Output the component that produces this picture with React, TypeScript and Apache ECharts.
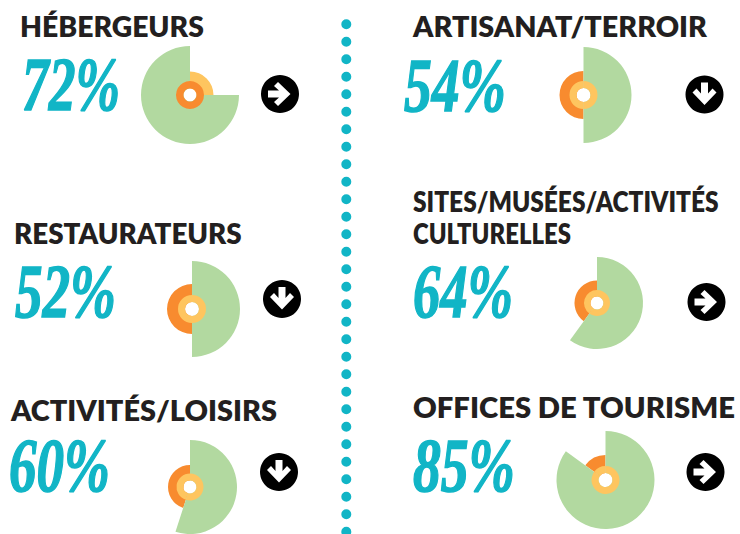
import React, { useEffect, useRef } from "react";
import * as echarts from "echarts";

// ---- data
const titleLines = [
  ["HÉBERGEURS"],
  ["RESTAURATEURS"],
  ["ACTIVITÉS/LOISIRS"],
  ["ARTISANAT/TERROIR"],
  ["SITES/MUSÉES/ACTIVITÉS", "CULTURELLES"],
  ["OFFICES DE TOURISME"],
];
const headlines = ["72%", "52%", "60%", "54%", "64%", "85%"];
const outerShares = [75, 50, 55, 50, 60, 85];
const middleShares = [25, 50, 45, 50, 40, 15];
const innerShares = [100, 50, 55, 50, 60, 85];
const trends = ["right", "down", "down", "down", "right", "right"];

// ---- layout
const centers = [[190, 95], [192, 309], [190, 487], [583.5, 95], [597, 303], [605.5, 480]];
const radii = [[49, 23.5, 14, 6.5], [48, 25, 14, 7], [47, 22, 13.5, 6.5], [48, 24, 14, 7], [46, 22.5, 13, 6.5], [49, 25, 14, 7]];
const outerStarts = [0, 90, 90, 90, 90, 90];
const arrowCenters = [[280, 94], [282, 299], [279, 472], [704.5, 94.5], [706.5, 302], [705.5, 472]];
const titleX = [[20], [14], [11], [413], [413, 413], [413]];
const titleY = [[26], [233], [409], [26], [201, 233], [407]];
const titleW = [[184], [228], [266], [294], [306, 158], [323]];
const headlineX = [22, 15, 9, 404, 413, 413];
const headlineY = [84, 291, 465, 85, 291, 465];
const headlineW = [98, 101, 101, 102, 100, 102];

const GREEN = "#B2D9A0";
const YELLOW = "#FEC55F";
const ORANGE = "#F88B2F";
const TEAL = "#11B5C6";
const DARK = "#231F20";
const TITLE_FONT = "Lato";
const NUM_FONT = "Liberation Serif";

const ctx = document.createElement("canvas").getContext("2d")!;
const measure = (t: string, font: string) => {
  ctx.font = font;
  return ctx.measureText(t).width;
};

const ringSeries = (c: number[], inner: number, outer: number, start: number, value: number, color: string, rest: string) => ({
  type: "pie",
  silent: true,
  center: c,
  radius: [inner, outer],
  startAngle: start,
  clockwise: true,
  label: { show: false },
  labelLine: { show: false },
  emphasis: { disabled: true },
  data: [
    { value, itemStyle: { color } },
    { value: 100 - value, itemStyle: { color: rest } },
  ],
});

const arrowPoints = (dir: string) => {
  const pts = [[-12, -3.5], [-1, -3.5], [-6, -8], [-2, -12], [10.5, 0], [-2, 12], [-6, 8], [-1, 3.5], [-12, 3.5]];
  return dir === "down" ? pts.map(([x, y]) => [-y, x]) : pts;
};

// a thin white seam across the inner ring, at the angle a share ends on
const seam = (c: number[], from: number, to: number, share: number) => {
  const a = (share * 3.6 * Math.PI) / 180;
  const s = Math.sin(a);
  const k = Math.cos(a);
  return {
    type: "line",
    shape: { x1: c[0] + from * s, y1: c[1] - from * k, x2: c[0] + to * s, y2: c[1] - to * k },
    style: { stroke: "#ffffff", lineWidth: 0.8 },
  };
};

export default function App() {
  const ref = useRef<HTMLDivElement>(null);
  useEffect(() => {
    const chart = echarts.init(ref.current!, undefined, { renderer: "svg" });
    const series: any[] = [];
    const graphic: any[] = [];
    centers.forEach((c, i) => {
      const [r0, r1, r2, r3] = radii[i];
      const first = i === 0;
      const middleStart = first ? 90 : 90 - outerShares[i] * 3.6;
      series.push(ringSeries(c, r3, r1, middleStart, middleShares[i], first ? YELLOW : ORANGE, "none"));
      series.push(ringSeries(c, r3, r0, outerStarts[i], outerShares[i], GREEN, "none"));
      series.push(ringSeries(c, r3, r2, 90, innerShares[i], first ? ORANGE : YELLOW, first ? ORANGE : YELLOW));

      if (!first) {
        graphic.push(seam(c, r3, r2, innerShares[i]));
        if (innerShares[i] !== 50) graphic.push(seam(c, r3, r2, 0));
      }

      titleLines[i].forEach((line, j) => {
        const font = `800 29px ${TITLE_FONT}`;
        graphic.push({
          type: "text",
          x: titleX[i][j],
          y: titleY[i][j],
          scaleX: titleW[i][j] / measure(line, font),
          style: { text: line, font, fill: DARK, textAlign: "left", textVerticalAlign: "middle" },
        });
      });
      const nFont = `italic 700 76px "${NUM_FONT}"`;
      graphic.push({
        type: "text",
        x: headlineX[i],
        y: headlineY[i],
        scaleX: headlineW[i] / measure(headlines[i], nFont),
        style: { text: headlines[i], font: nFont, fill: TEAL, stroke: TEAL, lineWidth: 1.5, textAlign: "left", textVerticalAlign: "middle" },
      });
      const [ax, ay] = arrowCenters[i];
      graphic.push({ type: "circle", shape: { cx: ax, cy: ay, r: 19 }, style: { fill: "#000000" } });
      graphic.push({ type: "polygon", x: ax, y: ay, shape: { points: arrowPoints(trends[i]) }, style: { fill: "#ffffff" } });
    });
    graphic.push({
      type: "line",
      shape: { x1: 346.3, y1: 24.3, x2: 346.3, y2: 545 },
      style: { stroke: TEAL, lineWidth: 10, lineCap: "round", lineDash: [0, 17.5] },
    });
    chart.setOption({ animation: false, backgroundColor: "#ffffff", series, graphic });
    return () => chart.dispose();
  }, []);
  return <div ref={ref} style={{ position: "absolute", left: 0, top: 0, width: 740, height: 534 }} />;
}
